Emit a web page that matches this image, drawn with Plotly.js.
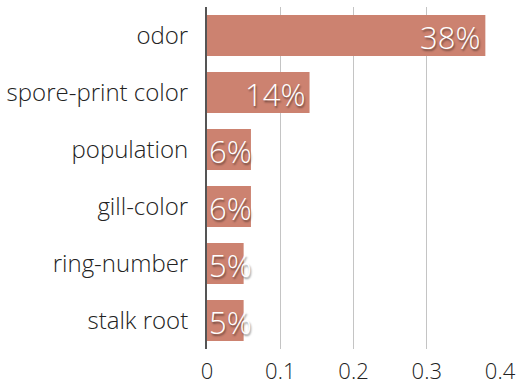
<!DOCTYPE html>
<html>
<head>
<meta charset="utf-8">
<script src="https://cdn.plot.ly/plotly-3.0.1.min.js"></script>
<style>html,body{margin:0;padding:0;background:#fff;}#chart{width:517px;height:386px;}</style>
</head>
<body>
<div id="chart"></div>
<script>
// Feature importance for the mushroom dataset
const features = ["odor", "spore-print color", "population", "gill-color", "ring-number", "stalk root"];
const importance = [0.38, 0.14, 0.06, 0.06, 0.05, 0.05];
const xTicks = [0, 0.1, 0.2, 0.3, 0.4];
const xTickLabels = ["0", "0.1", "0.2", "0.3", "0.4"];

const barColor = "rgb(204,130,112)";
const fontFamily = "'Open Sans', Roboto, sans-serif";

const trace = {
  type: "bar",
  orientation: "h",
  y: features,
  x: importance,
  marker: {color: barColor},
  hoverinfo: "none"
};

// Percentage labels: right-aligned inside long bars, from the axis for short ones
const annotations = features.map((f, i) => {
  const v = importance[i];
  const long = v >= 0.1;
  return {
    x: long ? v : 0,
    y: f,
    xref: "x",
    yref: "y",
    text: Math.round(v * 100) + "%",
    showarrow: false,
    xanchor: long ? "right" : "left",
    yanchor: "middle",
    xshift: long ? -3 : 0,
    yshift: -1,
    font: {
      family: fontFamily,
      size: 31,
      weight: 300,
      color: "#ffffff",
      shadow: "1px 2px 2px rgba(0,0,0,0.45)"
    }
  };
});

const layout = {
  width: 517,
  height: 386,
  margin: {l: 207, r: 17, t: 7, b: 37},
  paper_bgcolor: "#ffffff",
  plot_bgcolor: "#ffffff",
  bargap: 0.28,
  showlegend: false,
  font: {family: fontFamily, color: "#222"},
  xaxis: {
    range: [0, 0.4],
    tickvals: xTicks,
    ticktext: xTickLabels,
    showgrid: true,
    gridcolor: "#c4c4c4",
    gridwidth: 1,
    zeroline: false,
    showline: false,
    ticks: "outside",
    ticklen: 3,
    tickcolor: "rgba(0,0,0,0)",
    tickfont: {size: 22, weight: 300, color: "#222"},
    fixedrange: true
  },
  yaxis: {
    categoryorder: "array",
    categoryarray: features.slice().reverse(),
    autorange: true,
    showgrid: false,
    zeroline: false,
    showline: true,
    linecolor: "#555",
    linewidth: 2,
    ticks: "outside",
    ticklen: 12,
    tickcolor: "rgba(0,0,0,0)",
    tickfont: {size: 24, weight: 300, color: "#222"},
    fixedrange: true
  },
  annotations: annotations
};

Plotly.newPlot("chart", [trace], layout, {displayModeBar: false, staticPlot: true});
</script>
</body>
</html>
